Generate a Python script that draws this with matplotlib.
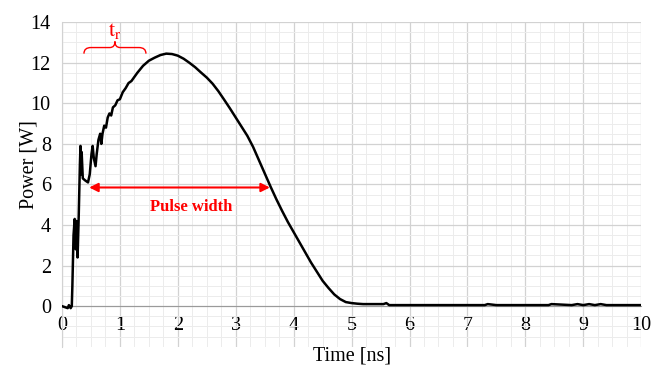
import matplotlib
matplotlib.use("Agg")
import matplotlib.pyplot as plt
from matplotlib.path import Path
from matplotlib.patches import PathPatch
from matplotlib.ticker import MultipleLocator

plt.rcParams['font.family'] = ['Liberation Serif', 'DejaVu Serif']
plt.rcParams['mathtext.fontset'] = 'stix'

time_ns = [0, 0.05, 0.1, 0.12, 0.15, 0.17, 0.18, 0.2, 0.22, 0.24, 0.25, 0.27, 0.29,
           0.31, 0.32, 0.33, 0.34, 0.36, 0.4, 0.45, 0.48, 0.51, 0.53, 0.55, 0.58,
           0.6, 0.63, 0.66, 0.68, 0.7, 0.73, 0.76, 0.79, 0.82, 0.85, 0.88, 0.92,
           0.96, 1.0, 1.05, 1.1, 1.15, 1.2, 1.3, 1.4, 1.5, 1.6, 1.7, 1.8, 1.9,
           2.0, 2.1, 2.2, 2.3, 2.4, 2.5, 2.6, 2.7, 2.8, 2.9, 3.0, 3.1, 3.2, 3.3,
           3.4, 3.5, 3.6, 3.7, 3.8, 3.9, 4.0, 4.1, 4.2, 4.3, 4.4, 4.5, 4.6, 4.7,
           4.8, 4.9, 5.0, 5.1, 5.2, 5.4, 5.55, 5.6, 5.65, 5.8, 6.5, 7.0, 7.3,
           7.35, 7.5, 8.0, 8.4, 8.45, 8.8, 8.9, 9.0, 9.1, 9.2, 9.3, 9.4, 10.0]
power_w = [0.0, -0.05, -0.1, 0.05, -0.1, 0.0, 1.0, 3.5, 4.3, 2.8, 4.2, 2.4, 4.5,
           7.0, 7.9, 6.5, 7.6, 6.3, 6.2, 6.1, 6.5, 7.5, 7.9, 7.3, 6.9,
           7.5, 8.2, 8.5, 8.0, 8.5, 8.9, 8.8, 9.3, 9.5, 9.4, 9.8, 9.9,
           10.15, 10.2, 10.55, 10.75, 11.0, 11.1, 11.5, 11.85, 12.1, 12.25, 12.38, 12.45, 12.43,
           12.35, 12.2, 12.0, 11.78, 11.52, 11.27, 10.97, 10.6, 10.18, 9.75, 9.3, 8.85, 8.4, 7.85,
           7.2, 6.55, 5.9, 5.28, 4.7, 4.15, 3.65, 3.15, 2.65, 2.15, 1.7, 1.25, 0.9, 0.58,
           0.35, 0.2, 0.15, 0.12, 0.1, 0.1, 0.1, 0.15, 0.05, 0.05, 0.05, 0.05, 0.05,
           0.1, 0.05, 0.05, 0.05, 0.1, 0.05, 0.1, 0.05, 0.1, 0.05, 0.1, 0.05, 0.05]

x_ticks = list(range(0, 11))
y_ticks = list(range(0, 15, 2))

# annotations
rise_start, rise_end, rise_y = 0.38, 1.45, 12.45
pw_start, pw_end, pw_y = 0.47, 3.59, 5.85

fig = plt.figure(figsize=(6.59, 3.70), dpi=100)
ax = fig.add_axes([0.094, 0.063, 0.879, 0.877])

ax.plot(time_ns, power_w, color='black', lw=1.8, zorder=3)

ax.set_xlim(0, 10)
ax.set_ylim(-2, 14)
ax.set_xticks(x_ticks)
ax.set_yticks(y_ticks)
ax.xaxis.set_minor_locator(MultipleLocator(0.25))
ax.yaxis.set_minor_locator(MultipleLocator(0.5))
ax.grid(which='major', color='#d2d2d2', lw=0.9)
ax.grid(which='minor', color='#ececec', lw=0.7)
ax.set_axisbelow(True)

for s in ['top', 'right']:
    ax.spines[s].set_visible(False)
ax.spines['bottom'].set_position(('data', 0))
ax.spines['bottom'].set_color('#9a9a9a')
ax.spines['left'].set_color('#d2d2d2')
ax.tick_params(which='both', length=0, labelsize=14.5)
ax.tick_params(axis='x', pad=7)
ax.tick_params(axis='y', pad=8)

ax.set_xlabel('Time [ns]', fontsize=14.5)
ax.xaxis.set_label_coords(0.5, 0.0)
ax.set_ylabel('Power [W]', fontsize=14.5)
ax.yaxis.set_label_coords(-0.04, 0.5625)

# rise time brace
mid = (rise_start + rise_end) / 2
h = 0.3
verts = [(rise_start, rise_y), (rise_start, rise_y + h), (rise_start + 0.12, rise_y + h),
         (mid - 0.09, rise_y + h),
         (mid, rise_y + h), (mid, rise_y + 2 * h),
         (mid, rise_y + h), (mid + 0.09, rise_y + h),
         (rise_end - 0.12, rise_y + h),
         (rise_end, rise_y + h), (rise_end, rise_y)]
codes = [Path.MOVETO, Path.CURVE3, Path.CURVE3, Path.LINETO,
         Path.CURVE3, Path.CURVE3, Path.CURVE3, Path.CURVE3,
         Path.LINETO, Path.CURVE3, Path.CURVE3]
ax.add_patch(PathPatch(Path(verts, codes), fill=False, color='red', lw=1.0))
ax.text(mid, rise_y + 2 * h, r'$\mathrm{t_r}$', color='red', fontsize=16,
        ha='center', va='bottom')

# pulse width arrow
ax.annotate('', xy=(pw_start, pw_y), xytext=(pw_end, pw_y),
            arrowprops=dict(arrowstyle='<|-|>', color='red', lw=1.5,
                            mutation_scale=13, shrinkA=0, shrinkB=0))
ax.text((pw_start + pw_end) / 2 + 0.2, pw_y - 0.95, 'Pulse width', color='red',
        fontsize=12, fontweight='bold', ha='center', va='center')

fig.savefig('out.png', dpi=100)
